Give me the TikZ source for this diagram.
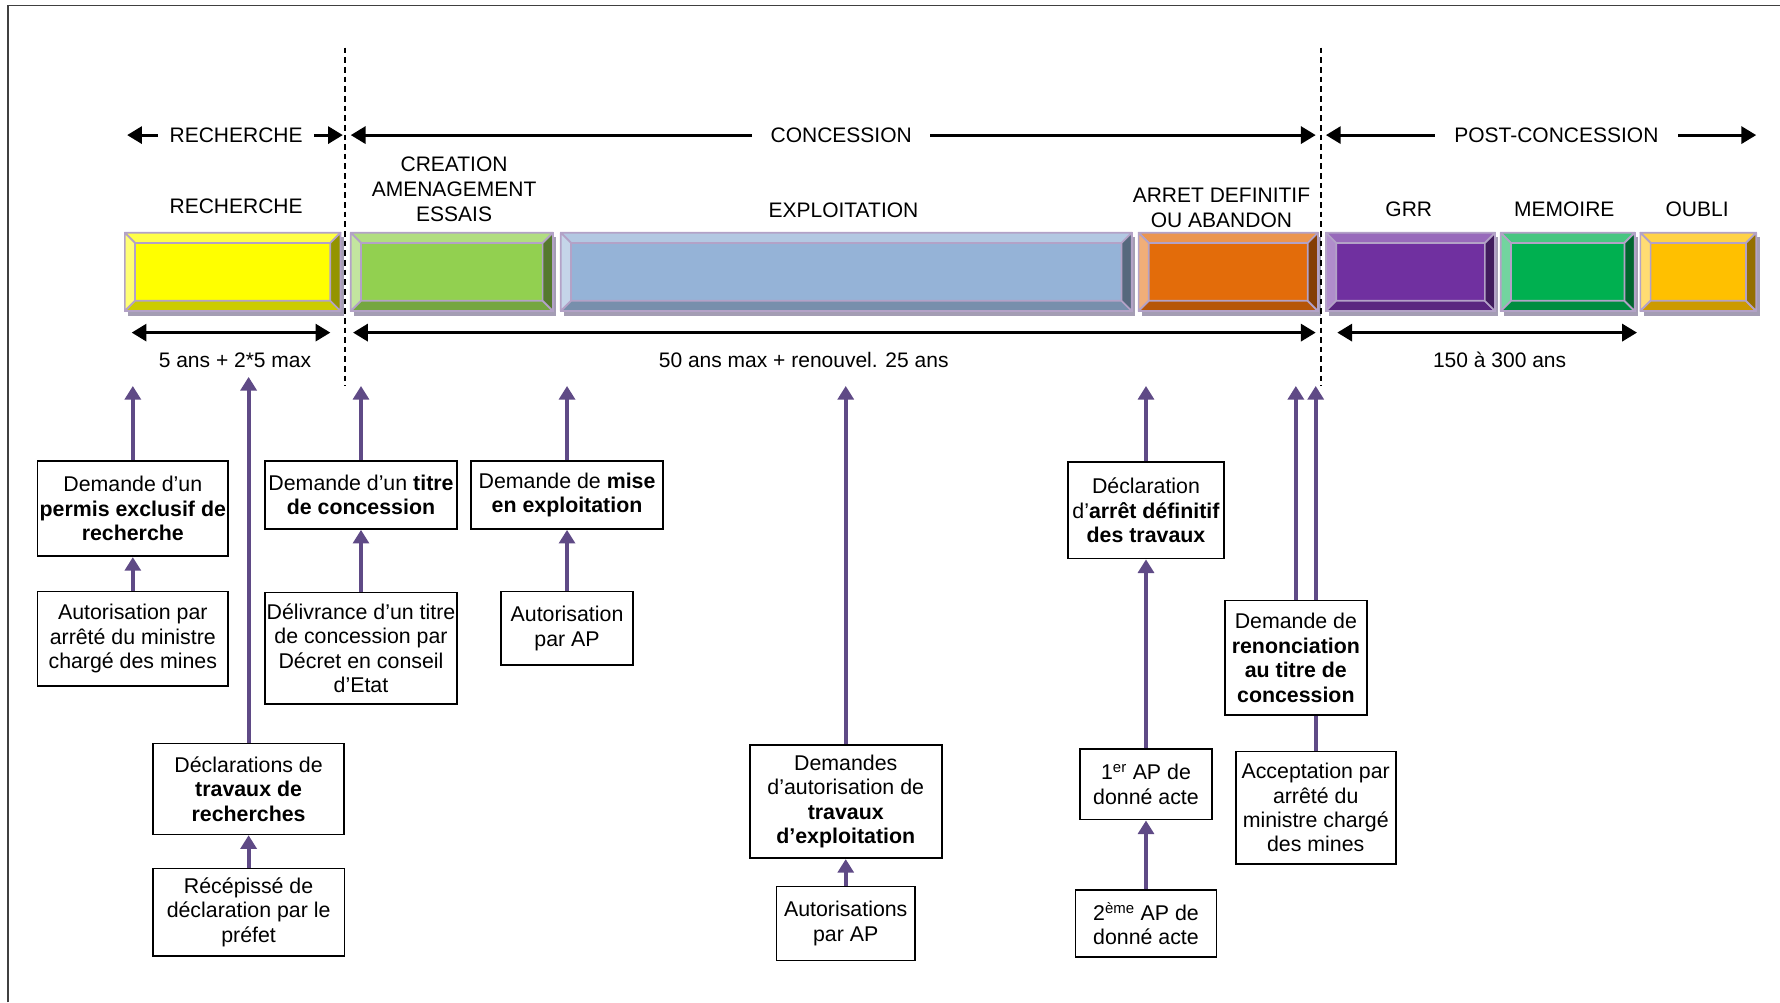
\documentclass[tikz,border=0pt]{standalone}
\usepackage{fontspec}
\setmainfont{Liberation Sans}
\usepackage{xcolor}
\usepackage{tikz}
\usetikzlibrary{arrows.meta}

\definecolor{barline}{HTML}{B3A2C7}
\definecolor{barshadow}{HTML}{A49DB4}
\definecolor{linkcol}{HTML}{5F4A86}
\definecolor{rechcol}{HTML}{FFFF00}
\definecolor{creacol}{HTML}{92D050}
\definecolor{explcol}{HTML}{95B3D7}
\definecolor{arretcol}{HTML}{E36C0A}
\definecolor{grrcol}{HTML}{7030A0}
\definecolor{memcol}{HTML}{00B050}
\definecolor{oublicol}{HTML}{FFC000}

% bevelled phase bar: name, left, right, colour
\newcommand{\phasebar}[4]{%
  \fill[barshadow] (#2+3,209) rectangle (#3+3,278);
  \node[bar, fill=#4, minimum width=#3-#2] (#1) at ({(#2+#3)/2},239.5) {};
  \filldraw[bevel, fill=#4!72!white] (#2,205) -- (#3,205) -- (#3-9,214) -- (#2+9,214) -- cycle;
  \filldraw[bevel, fill=#4!55!white] (#2,205) -- (#2+9,214) -- (#2+9,265) -- (#2,274) -- cycle;
  \filldraw[bevel, fill=#4!80!black] (#2,274) -- (#2+9,265) -- (#3-9,265) -- (#3,274) -- cycle;
  \filldraw[bevel, fill=#4!58!black] (#3,205) -- (#3-9,214) -- (#3-9,265) -- (#3,274) -- cycle;
}

\begin{document}
\begin{tikzpicture}[x=1pt, y=-1pt,
    pageframe/.style={draw=black!75, line width=1.3pt},
    bar/.style={rectangle, draw=barline, line width=1.5pt, minimum height=69, inner sep=0pt},
    bevel/.style={draw=barline, line width=1.5pt, line join=round},
    phase/.style={font=\fontsize{18.5}{22}\selectfont, align=center, inner sep=0pt},
    period/.style={font=\fontsize{18.5}{22}\selectfont, inner ysep=0pt, inner xsep=10pt},
    act/.style={rectangle, draw=black, line width=1.5pt, fill=white, align=center, inner sep=1pt, font=\fontsize{18.8}{21.5}\selectfont},
    timeline/.style={-{Triangle[length=13pt,width=15pt]}, line width=2.6pt},
    durationarrow/.style={{Triangle[length=13pt,width=15pt]}-{Triangle[length=13pt,width=15pt]}, line width=2.6pt},
    link/.style={-{Triangle[length=12pt,width=14pt]}, draw=linkcol, line width=3.4pt},
    limit/.style={dash pattern=on 5pt off 3.5pt, line width=1.3pt}
]
\useasboundingbox (0,0) rectangle (1568,883);

% Frame
\draw[pageframe] (7,883) -- (7,5) -- (1568,5);

% Main periods
\node[period] (hrech) at (208,119) {RECHERCHE};
\node[period, inner xsep=16pt] (hconc) at (741,119) {CONCESSION};
\node[period, inner xsep=17pt] (hpost) at (1371,119) {POST-CONCESSION};

\coordinate (rechL) at (112,119);
\coordinate (rechR) at (302,119);
\coordinate (concL) at (309,119);
\coordinate (concR) at (1159,119);
\coordinate (postL) at (1168,119);
\coordinate (postR) at (1547,119);

\draw[timeline] (hrech.west) -- (rechL);
\draw[timeline] (hrech.east) -- (rechR);
\draw[timeline] (hconc.west) -- (concL);
\draw[timeline] (hconc.east) -- (concR);
\draw[timeline] (hpost.west) -- (postL);
\draw[timeline] (hpost.east) -- (postR);

% Phase labels
\node[phase] (lrech) at (208,182) {RECHERCHE};
\node[phase] (lcrea) at (400,167) {CREATION\\AMENAGEMENT\\ESSAIS};
\node[phase] (lexpl) at (743,185) {EXPLOITATION};
\node[phase] (larret) at (1076,183) {ARRET DEFINITIF\\OU ABANDON};
\node[phase] (lgrr) at (1241,184) {GRR};
\node[phase] (lmem) at (1378,184) {MEMOIRE};
\node[phase] (loubli) at (1495,184) {OUBLI};

% Phase bars
\phasebar{brech}{110}{300}{rechcol}
\phasebar{bcrea}{309}{487}{creacol}
\phasebar{bexpl}{494}{997}{explcol}
\phasebar{barret}{1003}{1161}{arretcol}
\phasebar{bgrr}{1168}{1317}{grrcol}
\phasebar{bmem}{1322}{1440}{memcol}
\phasebar{boubli}{1445}{1547}{oublicol}

% Phase limits
\coordinate (lim1a) at (304,42);
\coordinate (lim1b) at (304,340);
\coordinate (lim2a) at (1163.5,42);
\coordinate (lim2b) at (1163.5,340);
\draw[limit] (lim1a) -- (lim1b);
\draw[limit] (lim2a) -- (lim2b);

% Durations
\coordinate (d1a) at (116,293);
\coordinate (d1b) at (291,293);
\coordinate (d2a) at (311,293);
\coordinate (d2b) at (1159,293);
\coordinate (d3a) at (1178,293);
\coordinate (d3b) at (1442,293);
\draw[durationarrow] (d1a) -- (d1b);
\draw[durationarrow] (d2a) -- (d2b);
\draw[durationarrow] (d3a) -- (d3b);
\node[period] (drech) at (207,317) {5 ans + 2*5 max};
\node[period] (dconc) at (708,317) {50 ans max + renouvel. 25 ans};
\node[period] (dpost) at (1321,317) {150 à 300 ans};

% Procedures
\coordinate (reach) at (0,340);
\coordinate (reachhigh) at (0,332);

\node[act, minimum width=168, minimum height=84] (dpermis) at (117,448) {Demande d’un\\\textbf{permis exclusif de}\\\textbf{recherche}};
\node[act, minimum width=168, minimum height=83] (apermis) at (117,562.5) {Autorisation par\\arrêté du ministre\\chargé des mines};
\node[act, minimum width=168, minimum height=80] (dtravrech) at (219,695) {Déclarations de\\\textbf{travaux de}\\\textbf{recherches}};
\node[act, minimum width=169, minimum height=77] (recepisse) at (219,803.5) {Récépissé de\\déclaration par le\\préfet};

\node[act, minimum width=169, minimum height=60] (dtitre) at (318,436) {Demande d’un \textbf{titre}\\\textbf{de concession}};
\node[act, minimum width=169, minimum height=98] (delivrance) at (318,571) {Délivrance d’un titre\\de concession par\\Décret en conseil\\d’Etat};

\node[act, minimum width=169, minimum height=60] (dmise) at (499.5,436) {Demande de \textbf{mise}\\\textbf{en exploitation}};
\node[act, minimum width=116, minimum height=65] (amise) at (499.5,553.5) {Autorisation\\par AP};

\node[act, minimum width=169, minimum height=100] (dtravexp) at (745,706) {Demandes\\d’autorisation de\\\textbf{travaux}\\\textbf{d’exploitation}};
\node[act, minimum width=122, minimum height=65] (atravexp) at (745,813.5) {Autorisations\\par AP};

\node[act, minimum width=138, minimum height=85] (darret) at (1009.5,449.5) {Déclaration\\d’\textbf{arrêt définitif}\\\textbf{des travaux}};
\node[act, minimum width=116, minimum height=62] (ap1) at (1009.5,691) {1\textsuperscript{er} AP de\\donné acte};
\node[act, minimum width=124, minimum height=59] (ap2) at (1009.5,813.5) {2\textsuperscript{ème} AP de\\donné acte};

\node[act, minimum width=141, minimum height=99] (accept) at (1159,711.5) {Acceptation par\\arrêté du\\ministre chargé\\des mines};
\draw[link] (accept) -- (accept |- reach);
\node[act, minimum width=125, minimum height=101] (drenonc) at (1141.5,579.5) {Demande de\\\textbf{renonciation}\\\textbf{au titre de}\\\textbf{concession}};

% Arrows
\draw[link] (dpermis) -- (dpermis |- reach);
\draw[link] (apermis) -- (dpermis);
\draw[link] (dtravrech) -- (dtravrech |- reachhigh);
\draw[link] (recepisse) -- (dtravrech);
\draw[link] (dtitre) -- (dtitre |- reach);
\draw[link] (delivrance) -- (dtitre);
\draw[link] (dmise) -- (dmise |- reach);
\draw[link] (amise) -- (dmise);
\draw[link] (dtravexp) -- (dtravexp |- reach);
\draw[link] (atravexp) -- (dtravexp);
\draw[link] (darret) -- (darret |- reach);
\draw[link] (ap1) -- (darret);
\draw[link] (ap2) -- (ap1);
\draw[link] (drenonc) -- (drenonc |- reach);

\end{tikzpicture}
\end{document}
